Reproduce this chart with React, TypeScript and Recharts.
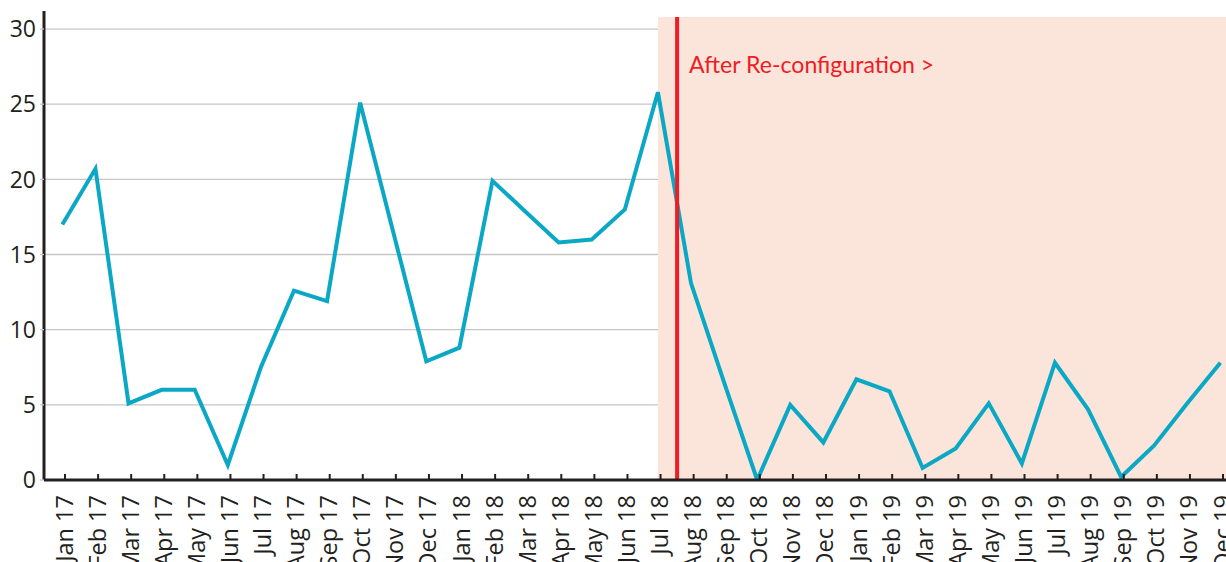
import React from 'react';
import {
  LineChart,
  Line,
  XAxis,
  YAxis,
  CartesianGrid,
  ReferenceArea,
  ReferenceLine,
} from 'recharts';

const MONTHS = [
  'Jan 17', 'Feb 17', 'Mar 17', 'Apr 17', 'May 17', 'Jun 17',
  'Jul 17', 'Aug 17', 'Sep 17', 'Oct 17', 'Nov 17', 'Dec 17',
  'Jan 18', 'Feb 18', 'Mar 18', 'Apr 18', 'May 18', 'Jun 18',
  'Jul 18', 'Aug 18', 'Sep 18', 'Oct 18', 'Nov 18', 'Dec 18',
  'Jan 19', 'Feb 19', 'Mar 19', 'Apr 19', 'May 19', 'Jun 19',
  'Jul 19', 'Aug 19', 'Sep 19', 'Oct 19', 'Nov 19', 'Dec 19',
];

const VALUES = [
  17.0, 20.7, 5.1, 6.0, 6.0, 1.0,
  7.5, 12.6, 11.9, 25.1, 16.5, 7.9,
  8.8, 19.9, 17.85, 15.8, 16.0, 18.0,
  25.8, 13.1, 6.5, 0.0, 5.0, 2.5,
  6.7, 5.9, 0.8, 2.1, 5.1, 1.1,
  7.8, 4.7, 0.2, 2.3, 5.1, 7.8,
];

const Y_TICKS = [0, 5, 10, 15, 20, 25, 30];
const X_TICKS = MONTHS.map((_, i) => i);

const ANNOTATION = 'After Re-configuration >';
const CHANGE_POINT = 18.5; // between Jul 18 and Aug 18
const SHADE_START = 17.92;

const data = MONTHS.map((m, i) => ({ idx: i, month: m, value: VALUES[i] }));

const DARK = '#231F20';
const TICK_FONT = '"Open Sans", "Noto Sans", sans-serif';

const XTick = (props: any) => {
  const { x, y, payload } = props;
  const tx = x + 7.5;
  const ty = y + 15;
  return (
    <g>
      <line x1={x} y1={y - 6} x2={x} y2={y} stroke={DARK} strokeWidth={2} />
      <text
        x={tx}
        y={ty}
        transform={`rotate(-90, ${tx}, ${ty})`}
        textAnchor="end"
        fontFamily={TICK_FONT}
        fontSize={23.5}
        fill={DARK}
      >
        {MONTHS[payload.value]}
      </text>
    </g>
  );
};

const AnnotationLabel = (props: any) => {
  const { viewBox } = props;
  const x = viewBox.x + 12;
  const y = viewBox.y + 56;
  return (
    <text x={x} y={y} fontFamily="Lato, sans-serif" fontSize={23.1} fill="#EE1C25">
      {ANNOTATION}
    </text>
  );
};

export default function App() {
  return (
    <div style={{ width: 1226, height: 562, background: '#fff', overflow: 'hidden' }}>
      <style>{'body{margin:0;}'}</style>
      <LineChart
        width={1226}
        height={562}
        data={data}
        margin={{ top: 11, right: 0, bottom: 0, left: 0 }}
      >
        <ReferenceArea
          xAxisId="main"
          x1={SHADE_START}
          x2={35.09}
          y1={0}
          y2={30.8}
          fill="#FBE5DA"
          fillOpacity={1}
          stroke="none"
          ifOverflow="visible"
        />
        <CartesianGrid
          xAxisId="main"
          vertical={false}
          horizontalValues={[5, 10, 15, 20, 25, 30]}
          stroke="#C6C6C6"
          strokeWidth={1.3}
        />
        <XAxis
          xAxisId="main"
          type="number"
          dataKey="idx"
          domain={[-0.635, 35.09]}
          ticks={X_TICKS}
          interval={0}
          allowDataOverflow
          height={82}
          tickSize={0}
          tickMargin={0}
          tickLine={false}
          axisLine={{ stroke: DARK, strokeWidth: 3 }}
          tick={<XTick />}
        />
        <XAxis
          xAxisId="line"
          type="number"
          dataKey="idx"
          domain={[-0.635 + 0.08, 35.09 + 0.08]}
          allowDataOverflow
          orientation="top"
          height={0}
          hide
        />
        <YAxis
          type="number"
          domain={[0, 31.2]}
          ticks={Y_TICKS}
          allowDataOverflow
          width={44}
          tickSize={4}
          tickMargin={4}
          tickLine={{ stroke: '#C6C6C6', strokeWidth: 1.3 }}
          axisLine={{ stroke: DARK, strokeWidth: 3 }}
          tick={{ fill: DARK, fontSize: 23, fontFamily: TICK_FONT }}
        />
        <Line
          xAxisId="line"
          type="linear"
          dataKey="value"
          stroke="#0AA8C5"
          strokeWidth={4}
          dot={false}
          activeDot={false}
          isAnimationActive={false}
        />
        <ReferenceLine
          xAxisId="main"
          segment={[
            { x: CHANGE_POINT, y: 0 },
            { x: CHANGE_POINT, y: 30.8 },
          ]}
          stroke="#EE1C25"
          strokeWidth={4}
          label={<AnnotationLabel />}
        />
      </LineChart>
    </div>
  );
}
